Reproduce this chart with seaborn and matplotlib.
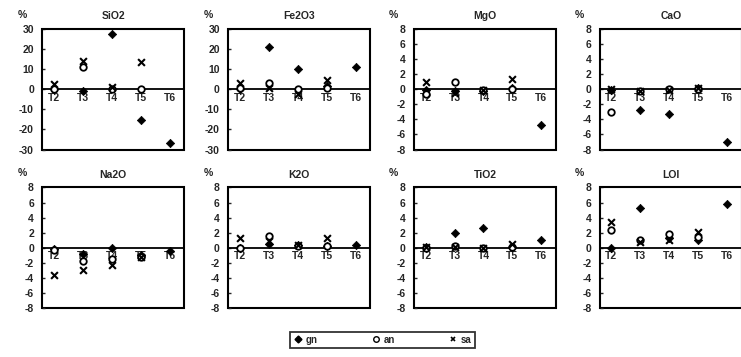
import numpy as np
import pandas as pd
import matplotlib.pyplot as plt
from matplotlib.lines import Line2D
import seaborn as sns

nan = np.nan

# Sample sites and oxides
categories = ['T2', 'T3', 'T4', 'T5', 'T6']
oxides = ['SiO2', 'Fe2O3', 'MgO', 'CaO', 'Na2O', 'K2O', 'TiO2', 'LOI']
oxide_labels = ['SiO2', 'Fe2O3', 'MgO', 'CaO', 'Na2O', 'K2O', 'TiO2', 'LOI']
y_limits = [30, 30, 8, 8, 8, 8, 8, 8]
y_steps = [10, 10, 2, 2, 2, 2, 2, 2]

# % change per series (rows follow oxides, columns follow categories)
gn = [
    [0.3, -1.0, 27.5, -15.5, -27.0],
    [0.0, 21.0, 10.0, 1.5, 11.0],
    [-0.1, -0.3, -0.2, 0.1, -4.7],
    [-0.1, -2.7, -3.3, 0.1, -7.0],
    [-0.1, -0.8, 0.0, -0.9, -0.4],
    [0.0, 0.5, 0.35, 0.2, 0.4],
    [0.1, 1.9, 2.6, 0.1, 1.1],
    [0.0, 5.3, 1.3, 1.1, 5.8],
]
an = [
    [0.0, 11.0, 0.0, 0.0, nan],
    [0.5, 3.0, 0.0, 0.5, nan],
    [-0.7, 1.0, -0.1, 0.0, nan],
    [-3.0, -0.2, 0.0, 0.0, nan],
    [-0.3, -1.8, -1.5, -1.2, nan],
    [0.0, 1.5, 0.3, 0.2, nan],
    [0.0, 0.3, 0.0, 0.1, nan],
    [2.4, 1.0, 1.8, 1.4, nan],
]
sa = [
    [2.5, 13.8, 1.0, 13.5, nan],
    [3.0, 0.5, -2.5, 4.5, nan],
    [1.0, -0.5, -0.1, 1.4, nan],
    [0.0, -0.2, -0.1, 0.1, nan],
    [-3.6, -3.0, -2.3, -1.2, nan],
    [1.3, 0.9, 0.35, 1.3, nan],
    [0.1, 0.1, 0.0, 0.45, nan],
    [3.4, 0.8, 1.1, 2.1, nan],
]

series = {'gn': gn, 'an': an, 'sa': sa}

# long table
rows = []
for name, table in series.items():
    for i, ox in enumerate(oxides):
        for j, cat in enumerate(categories):
            rows.append({'oxide': ox, 'series': name, 'site': cat, 'value': table[i][j]})
df = pd.DataFrame(rows)

sns.set_style('white')
plt.rcParams['font.family'] = ['Liberation Sans', 'DejaVu Sans']
plt.rcParams['font.weight'] = 'bold'
plt.rcParams['axes.unicode_minus'] = False

marker_style = {
    'gn': dict(marker='D', color='black', edgecolor='black', s=18, linewidth=0.5),
    'an': dict(marker='o', color='white', edgecolor='black', s=22, linewidth=1.3),
    'sa': dict(marker='x', color='black', s=24, linewidth=1.5),
}

fig, axes = plt.subplots(2, 4, figsize=(7.41, 3.57), dpi=100)
fig.subplots_adjust(left=0.057, right=1.001, top=0.919, bottom=0.137, wspace=0.31, hspace=0.315)

for ax, ox, lab, lim, step in zip(axes.flat, oxides, oxide_labels, y_limits, y_steps):
    sub = df[df['oxide'] == ox]
    for name in ['gn', 'an', 'sa']:
        d = sub[sub['series'] == name].dropna()
        d = d.assign(pos=d['site'].map({c: k for k, c in enumerate(categories)}))
        sns.scatterplot(data=d, x='pos', y='value', ax=ax, legend=False, zorder=3,
                        **marker_style[name])
    ticks = np.arange(-lim, lim + 1, step)
    ax.set_xlim(-0.4, 4.5)
    ax.set_ylim(-lim, lim)
    ax.set_yticks(ticks)
    ax.set_yticklabels([str(int(v)) for v in ticks])
    ax.set_xticks(range(len(categories)))
    ax.set_xticklabels(categories)
    ax.set_xlabel('')
    ax.set_ylabel('')
    ax.set_title(lab, fontsize=7.5, fontweight='bold', pad=7)
    ax.text(-0.175, 1.075, '%', transform=ax.transAxes, fontsize=7.5, fontweight='bold',
            va='bottom', ha='left')

    # zero line carries the site labels
    ax.spines['bottom'].set_position(('data', 0))
    for s in ['bottom', 'top', 'left', 'right']:
        ax.spines[s].set_color('black')
        ax.spines[s].set_linewidth(1.3)
        ax.spines[s].set_visible(True)
    ax.patch.set_edgecolor('black')
    ax.patch.set_linewidth(1.5)
    ax.tick_params(axis='x', direction='inout', length=3, width=1, pad=1, labelsize=7.5)
    ax.tick_params(axis='y', direction='in', length=2, width=1, pad=6, labelsize=7.5, left=True)
    for t in ax.get_xticklabels() + ax.get_yticklabels():
        t.set_fontweight('bold')

handles = [
    Line2D([], [], linestyle='none', marker='D', color='black', markersize=3.5),
    Line2D([], [], linestyle='none', marker='o', markerfacecolor='white',
           markeredgecolor='black', markersize=4),
    Line2D([], [], linestyle='none', marker='x', color='black', markersize=3.5, markeredgewidth=1.2),
]
leg = fig.legend(handles, ['gn', 'an', 'sa'], loc='center', bbox_to_anchor=(0.516, 0.048),
                 ncol=3, frameon=True, fancybox=False, edgecolor='black', columnspacing=5.5,
                 handletextpad=0.3, handlelength=1.0, borderpad=0.3, borderaxespad=0,
                 prop={'size': 7, 'weight': 'bold'})
leg.get_frame().set_linewidth(1.3)

plt.savefig('out.png', dpi=100)
